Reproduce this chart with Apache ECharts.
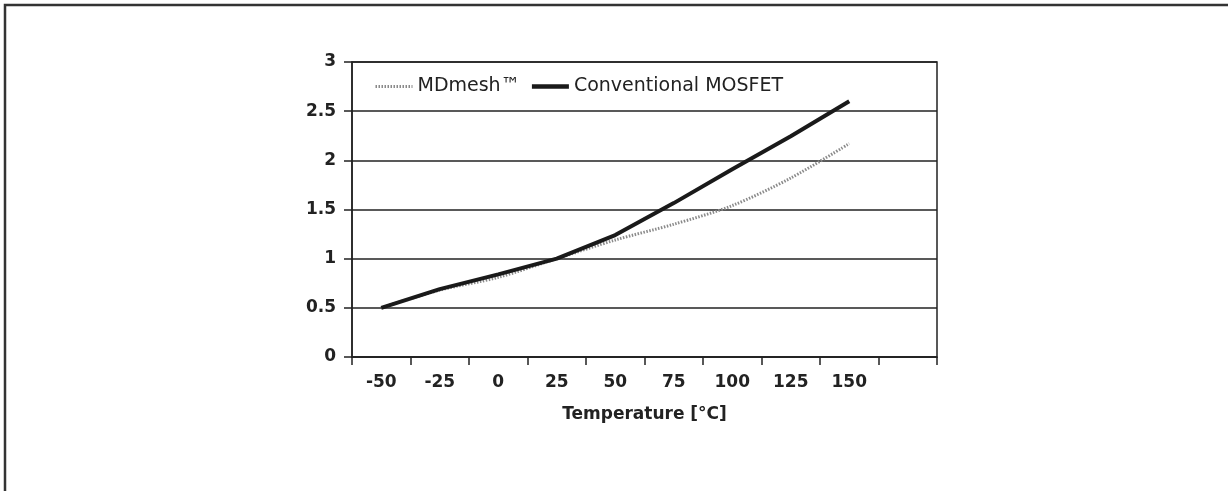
<!DOCTYPE html>
<html><head><meta charset="utf-8">
<script src="https://cdn.jsdelivr.net/npm/echarts@6/dist/echarts.min.js"></script>
<style>html,body{margin:0;padding:0;background:#fff}#c{width:1228px;height:491px}</style>
</head><body><div id="c"></div>
<script>
const categories = ['-50','-25','0','25','50','75','100','125','150',''];
const mdmesh = [0.5, 0.68, 0.81, 1.0, 1.19, 1.35, 1.54, 1.82, 2.17, null];
const conventional = [0.5, 0.69, 0.84, 1.0, 1.24, 1.565, 1.91, 2.245, 2.6, null];
const yTicks = [0, 0.5, 1, 1.5, 2, 2.5, 3];

const chart = echarts.init(document.getElementById('c'));
const font = '"DejaVu Sans", sans-serif';
chart.setOption({
  animation: false,
  graphic: [{type:'rect', shape:{x:5,y:5,width:1400,height:700}, style:{fill:'none', stroke:'#333', lineWidth:2.5}}],
  grid: {left:352, right:291, top:62, bottom:134, show:true, borderColor:'#222', borderWidth:1.5},
  legend: {left:369, top:72, itemWidth:37, itemHeight:14, itemGap:10,
    itemStyle:{opacity:0},
    textStyle:{fontFamily:font, fontSize:19, color:'#222'},
    data:[
      {name:'MDmesh™', lineStyle:{width:3, color:'#8a8a8a', type:[1.5,1.5]}},
      {name:'Conventional MOSFET', lineStyle:{width:4.5, color:'#1a1a1a', type:'solid'}}
    ]},
  xAxis: {type:'category', data:categories, boundaryGap:true,
    name:'Temperature [°C]', nameLocation:'middle', nameGap:49,
    nameTextStyle:{fontFamily:font, fontSize:17, fontWeight:'bold', color:'#222'},
    axisLine:{lineStyle:{color:'#222', width:1.5}},
    axisTick:{show:true, length:8, lineStyle:{color:'#222', width:1.5}},
    axisLabel:{margin:17, fontFamily:font, fontSize:17, fontWeight:'bold', color:'#222'}},
  yAxis: {type:'value', min:yTicks[0], max:yTicks[yTicks.length-1], interval:0.5,
    axisLine:{show:true, lineStyle:{color:'#222', width:1.5}},
    axisTick:{show:true, length:8, lineStyle:{color:'#222', width:1.5}},
    splitLine:{show:true, lineStyle:{color:'#222', width:1.5}},
    axisLabel:{margin:16, fontFamily:font, fontSize:17, fontWeight:'bold', color:'#222'}},
  series: [
    {name:'MDmesh™', type:'line', data:mdmesh, symbol:'none', smooth:0.3,
      lineStyle:{color:'#8a8a8a', width:3, type:[1.5,1.5]}, itemStyle:{color:'#8a8a8a'}},
    {name:'Conventional MOSFET', type:'line', data:conventional, symbol:'none',
      lineStyle:{color:'#1a1a1a', width:4}, itemStyle:{color:'#1a1a1a'}}
  ]
});
</script></body></html>
